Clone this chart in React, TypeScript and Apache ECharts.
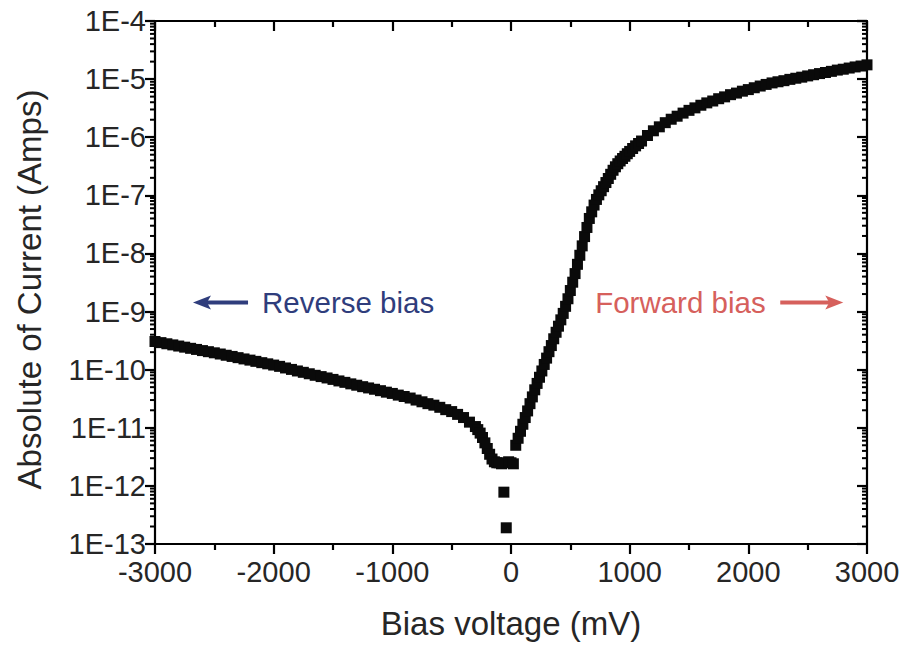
import React, { useEffect, useRef } from 'react';
import * as echarts from 'echarts';

// Reverse-bias branch (mV, A)
const reverseV = [
  -3000, -2950, -2900, -2850, -2800, -2750, -2700, -2650, -2600, -2550,
  -2500, -2450, -2400, -2350, -2300, -2250, -2200, -2150, -2100, -2050,
  -2000, -1950, -1900, -1850, -1800, -1750, -1700, -1650, -1600, -1550,
  -1500, -1450, -1400, -1350, -1300, -1250, -1200, -1150, -1100, -1050,
  -1000, -950, -900, -850, -800, -750, -700, -650, -600, -550,
  -500, -450, -400, -350, -300,
];
const reverseI = [
  3.05e-10, 2.92e-10, 2.79e-10, 2.67e-10, 2.55e-10, 2.44e-10, 2.33e-10, 2.23e-10, 2.13e-10, 2.04e-10,
  1.95e-10, 1.86e-10, 1.77e-10, 1.69e-10, 1.61e-10, 1.53e-10, 1.46e-10, 1.39e-10, 1.32e-10, 1.26e-10,
  1.2e-10, 1.14e-10, 1.07e-10, 1.01e-10, 9.5e-11, 9.0e-11, 8.5e-11, 8.0e-11, 7.6e-11, 7.2e-11,
  6.8e-11, 6.4e-11, 6.05e-11, 5.7e-11, 5.4e-11, 5.1e-11, 4.85e-11, 4.6e-11, 4.35e-11, 4.1e-11,
  3.9e-11, 3.65e-11, 3.45e-11, 3.25e-11, 3.0e-11, 2.8e-11, 2.6e-11, 2.45e-11, 2.25e-11, 2.05e-11,
  1.9e-11, 1.7e-11, 1.5e-11, 1.25e-11, 1.05e-11,
];

// Around zero bias
const zeroV = [-280, -260, -240, -220, -200, -180, -160, -140, -120, -100, -80, -60, -40, -20, 0, 20];
const zeroI = [
  9.3e-12, 8.1e-12, 6.8e-12, 5.5e-12, 4.4e-12, 3.5e-12, 2.9e-12, 2.6e-12,
  2.5e-12, 2.5e-12, 2.4e-12, 7.8e-13, 1.9e-13, 2.6e-12, 2.5e-12, 2.4e-12,
];

// Forward-bias branch
const forwardV = [
  40, 60, 80, 100, 120, 140, 160, 180, 200, 220, 240, 260, 280, 300, 320, 340, 360, 380, 400,
  420, 440, 460, 480, 500, 520, 540, 560, 580, 600, 620, 640, 660, 680, 700, 720, 740, 760, 780, 800,
  820, 840, 860, 880, 900, 920, 940, 960, 980, 1000,
  1025, 1050, 1075, 1100, 1150, 1200, 1250, 1300, 1350, 1400, 1450, 1500, 1550, 1600, 1650, 1700, 1750, 1800,
  1850, 1900, 1950, 2000, 2050, 2100, 2150, 2200, 2250, 2300, 2350, 2400, 2450, 2500, 2550, 2600,
  2650, 2700, 2750, 2800, 2850, 2900, 2950, 3000,
];
const forwardI = [
  5.0e-12, 6.6e-12, 8.7e-12, 1.15e-11, 1.5e-11, 1.95e-11, 2.6e-11, 3.4e-11, 4.5e-11, 5.8e-11, 7.4e-11, 9.5e-11, 1.23e-10, 1.58e-10, 2.04e-10, 2.6e-10, 3.4e-10, 4.4e-10, 5.6e-10,
  7.2e-10, 9.3e-10, 1.23e-9, 1.66e-9, 2.3e-9, 3.2e-9, 4.5e-9, 6.5e-9, 9.3e-9, 1.35e-8, 1.95e-8, 2.8e-8, 4.0e-8, 5.2e-8, 6.8e-8, 8.5e-8, 1.02e-7, 1.2e-7, 1.41e-7, 1.66e-7,
  1.95e-7, 2.3e-7, 2.7e-7, 3.1e-7, 3.5e-7, 3.9e-7, 4.3e-7, 4.7e-7, 5.2e-7, 5.7e-7,
  6.4e-7, 7.1e-7, 7.8e-7, 8.6e-7, 1.07e-6, 1.29e-6, 1.51e-6, 1.78e-6, 2.04e-6, 2.3e-6, 2.6e-6, 2.9e-6, 3.2e-6, 3.55e-6, 3.9e-6, 4.2e-6, 4.6e-6, 4.95e-6,
  5.4e-6, 5.75e-6, 6.2e-6, 6.6e-6, 7.1e-6, 7.6e-6, 8.1e-6, 8.6e-6, 9.0e-6, 9.4e-6, 9.9e-6, 1.035e-5, 1.08e-5, 1.135e-5, 1.19e-5, 1.245e-5,
  1.3e-5, 1.36e-5, 1.43e-5, 1.48e-5, 1.55e-5, 1.62e-5, 1.68e-5, 1.76e-5,
];

const X_MIN = -3000;
const X_MAX = 3000;
const X_INTERVAL = 1000;
const Y_MIN = 1e-13;
const Y_MAX = 1e-4;
const minorMultipliers = [2, 3, 4, 5, 6, 7, 8, 9];
const decadeExponents = [-13, -12, -11, -10, -9, -8, -7, -6, -5];

const reverseLabel = 'Reverse bias';
const forwardLabel = 'Forward bias';

const FONT = '"Liberation Sans", Arial, Helvetica, sans-serif';
const INK = '#000';
const TEXT = '#262626';
const BLUE = '#2f3d7c';
const RED = '#d6605c';

export default function App() {
  const ref = useRef<HTMLDivElement>(null);

  useEffect(() => {
    if (!ref.current) return;
    const chart = echarts.init(ref.current, null, { renderer: 'svg' });

    const points: number[][] = [];
    reverseV.forEach((v, i) => points.push([v, reverseI[i]]));
    zeroV.forEach((v, i) => points.push([v, zeroI[i]]));
    forwardV.forEach((v, i) => points.push([v, forwardI[i]]));

    const minorTickData: number[][] = [];
    decadeExponents.forEach((e) => {
      minorMultipliers.forEach((m) => minorTickData.push([X_MIN, m * Math.pow(10, e)]));
    });

    const lineStyle = { color: INK, width: 2.2 };
    const axisLine = { show: true, onZero: false, lineStyle };

    chart.setOption({
      animation: false,
      backgroundColor: '#fff',
      grid: { left: 155, right: 42, top: 21, bottom: 103, containLabel: false },
      xAxis: [
        {
          type: 'value', position: 'bottom', min: X_MIN, max: X_MAX, interval: X_INTERVAL,
          axisLine,
          axisTick: { show: true, length: 10, lineStyle },
          minorTick: { show: true, splitNumber: 2, length: 6, lineStyle },
          splitLine: { show: false },
          axisLabel: { fontSize: 29, color: TEXT, margin: 13, fontFamily: FONT, formatter: (v: number) => String(v) },
          name: 'Bias voltage (mV)', nameLocation: 'middle', nameGap: 63,
          nameTextStyle: { fontSize: 33, color: TEXT, fontFamily: FONT },
        },
        {
          type: 'value', position: 'top', min: X_MIN, max: X_MAX, interval: X_INTERVAL,
          axisLine,
          axisTick: { show: true, inside: true, length: 10, lineStyle },
          minorTick: { show: true, splitNumber: 2, length: 6, lineStyle },
          splitLine: { show: false },
          axisLabel: { show: false },
        },
      ],
      yAxis: [
        {
          type: 'log', logBase: 10, min: Y_MIN, max: Y_MAX, splitNumber: 9, position: 'left',
          axisLine,
          axisTick: { show: true, length: 10, lineStyle },
          splitLine: { show: false },
          axisLabel: {
            fontSize: 29, color: TEXT, margin: 9, fontFamily: FONT,
            formatter: (v: number) => '1E' + Math.round(Math.log10(v)),
          },
          name: 'Absolute of Current (Amps)', nameLocation: 'middle', nameGap: 109, nameRotate: 90,
          nameTextStyle: { fontSize: 33, color: TEXT, fontFamily: FONT, padding: [0, 14, 0, 0] },
        },
        {
          type: 'log', logBase: 10, min: Y_MIN, max: Y_MAX, splitNumber: 9, position: 'right',
          axisLine,
          axisTick: { show: true, inside: true, length: 10, lineStyle },
          splitLine: { show: false },
          axisLabel: { show: false },
        },
      ],
      series: [
        {
          type: 'custom',
          xAxisIndex: 0, yAxisIndex: 0,
          clip: false,
          silent: true,
          data: minorTickData,
          renderItem: (_params: any, api: any) => {
            const v = api.value(1);
            const pl = api.coord([X_MIN, v]);
            const pr = api.coord([X_MAX, v]);
            return {
              type: 'group',
              children: [
                { type: 'line', shape: { x1: pl[0] - 5, y1: pl[1], x2: pl[0], y2: pl[1] }, style: { stroke: INK, lineWidth: 2 } },
                { type: 'line', shape: { x1: pr[0], y1: pr[1], x2: pr[0] - 5, y2: pr[1] }, style: { stroke: INK, lineWidth: 2 } },
              ],
            };
          },
        },
        {
          type: 'scatter',
          xAxisIndex: 0, yAxisIndex: 0,
          symbol: 'rect',
          symbolSize: 11,
          itemStyle: { color: '#0a0a0a', opacity: 1 },
          data: points,
        },
      ],
    });

    const px = (v: number, i: number) => chart.convertToPixel({ xAxisIndex: 0, yAxisIndex: 0 }, [v, i]) as number[];
    const annY = 1.43e-9;
    const rTip = px(-2680, annY);
    const rTail = px(-2216, annY);
    const rText = px(-2098, annY);
    const fTail = px(2269, annY);
    const fTip = px(2800, annY);
    const fText = px(709, annY);

    const head = (tip: number[], dir: number, color: string) => ({
      type: 'polygon',
      shape: {
        points: [
          [tip[0], tip[1]],
          [tip[0] + dir * 18, tip[1] - 7],
          [tip[0] + dir * 14, tip[1]],
          [tip[0] + dir * 18, tip[1] + 7],
        ],
      },
      style: { fill: color },
    });

    chart.setOption({
      graphic: [
        { type: 'line', shape: { x1: rTip[0] + 10, y1: rTip[1], x2: rTail[0], y2: rTail[1] }, style: { stroke: BLUE, lineWidth: 4 } },
        head(rTip, 1, BLUE),
        { type: 'text', x: rText[0], y: rText[1], style: { text: reverseLabel, fill: BLUE, fontSize: 29.5, fontFamily: FONT, align: 'left', verticalAlign: 'middle' } },
        { type: 'line', shape: { x1: fTail[0], y1: fTail[1], x2: fTip[0] - 10, y2: fTip[1] }, style: { stroke: RED, lineWidth: 4 } },
        head(fTip, -1, RED),
        { type: 'text', x: fText[0], y: fText[1], style: { text: forwardLabel, fill: RED, fontSize: 29.5, fontFamily: FONT, align: 'left', verticalAlign: 'middle' } },
      ],
    });

    return () => chart.dispose();
  }, []);

  return (
    <div
      ref={ref}
      style={{ position: 'fixed', left: 0, top: 0, width: 909, height: 647, background: '#fff' }}
    />
  );
}
